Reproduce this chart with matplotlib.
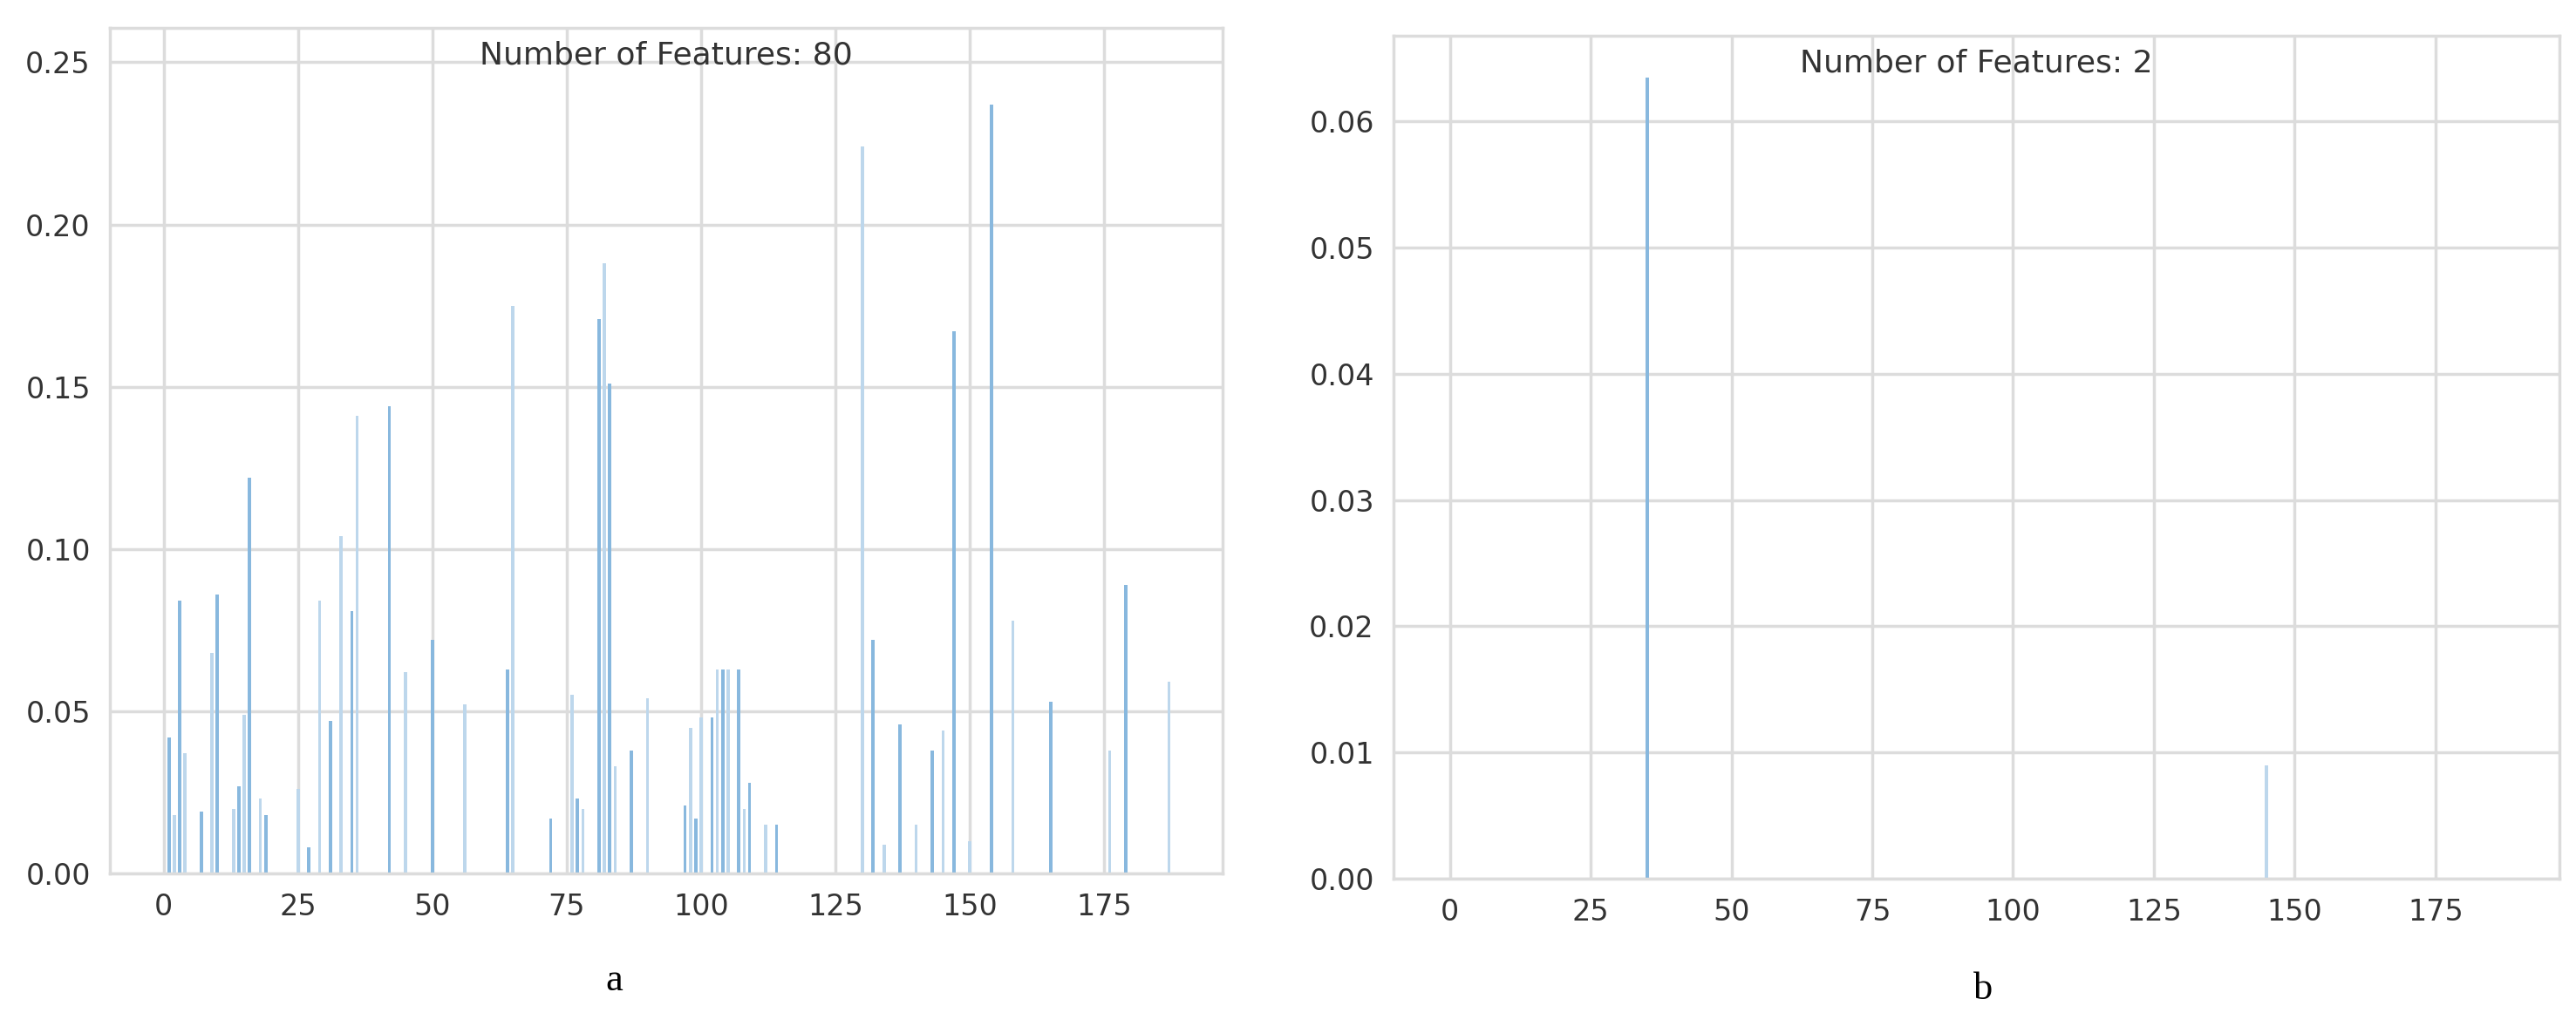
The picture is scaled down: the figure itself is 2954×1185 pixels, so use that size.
import matplotlib
matplotlib.use("Agg")
import matplotlib.pyplot as plt
import seaborn as sns

sns.set_theme(style="whitegrid")
plt.rcParams["font.family"] = ["DejaVu Sans"]

# panel a: feature index -> importance
a_idx = [1, 2, 3, 4, 7, 9, 10, 13, 14, 15, 16, 18, 19, 25, 27, 29, 31, 33, 35, 36,
         42, 45, 50, 56, 64, 65, 72, 76, 77, 78, 81, 82, 83, 84, 87, 90, 97, 98, 99,
         100, 102, 103, 104, 105, 107, 108, 109, 112, 114, 130, 132, 134, 137, 140,
         143, 145, 147, 150, 154, 158, 165, 176, 179, 187]
a_val = [0.042, 0.018, 0.084, 0.037, 0.019, 0.068, 0.086, 0.020, 0.027, 0.049, 0.122,
         0.023, 0.018, 0.026, 0.008, 0.084, 0.047, 0.104, 0.081, 0.141, 0.144, 0.062,
         0.072, 0.052, 0.063, 0.175, 0.017, 0.055, 0.023, 0.020, 0.171, 0.188, 0.151,
         0.033, 0.038, 0.054, 0.021, 0.045, 0.017, 0.048, 0.048, 0.063, 0.063, 0.063,
         0.063, 0.020, 0.028, 0.015, 0.015, 0.224, 0.072, 0.009, 0.046, 0.015, 0.038,
         0.044, 0.167, 0.010, 0.237, 0.078, 0.053, 0.038, 0.089, 0.059]
# panel b
b_idx = [35, 145]
b_val = [0.0635, 0.009]

DARK = "#88b8de"
LIGHT = "#bdd7ec"

fig = plt.figure(figsize=(29.54, 11.85), dpi=100)
ax_a = fig.add_axes([126 / 2954, 1 - 1002 / 1185, 1276 / 2954, 970 / 1185])
ax_b = fig.add_axes([1598 / 2954, 1 - 1008 / 1185, 1337 / 2954, 967 / 1185])


def _style(ax, ymax, step, fmt):
    ax.set_xlim(-10, 197)
    ax.set_ylim(0, ymax)
    ax.set_xticks(range(0, 176, 25))
    ticks = [i * step for i in range(int(ymax / step + 1e-9) + 1)]
    ax.set_yticks(ticks)
    ax.set_yticklabels([fmt.format(t) for t in ticks])
    ax.tick_params(labelsize=24, colors="#333333", pad=10)
    ax.grid(True, color="#dcdcdc", linewidth=2.5)
    for s in ax.spines.values():
        s.set_color("#dcdcdc")
        s.set_linewidth(2.5)


for ax, idx, val in [(ax_a, a_idx, a_val), (ax_b, b_idx, b_val)]:
    colors = [DARK if i % 2 == 0 else LIGHT for i in range(len(idx))]
    ax.bar(idx, val, width=0.6, color=colors, linewidth=0)

_style(ax_a, 0.2606, 0.05, "{:.2f}")
_style(ax_b, 0.0668, 0.01, "{:.2f}")

ax_a.text(0.5, 0.985, "Number of Features: 80", transform=ax_a.transAxes,
          ha="center", va="top", fontsize=26, color="#333333")
ax_b.text(0.5, 0.985, "Number of Features: 2", transform=ax_b.transAxes,
          ha="center", va="top", fontsize=26, color="#333333")

fig.text(704 / 2954, 1 - 1125 / 1185, "a", ha="center", va="center",
         fontsize=32, family=["Liberation Serif"], color="black")
fig.text(2274 / 2954, 1 - 1135 / 1185, "b", ha="center", va="center",
         fontsize=32, family=["Liberation Serif"], color="black")

fig.savefig("out.png", dpi=100, facecolor="white")
